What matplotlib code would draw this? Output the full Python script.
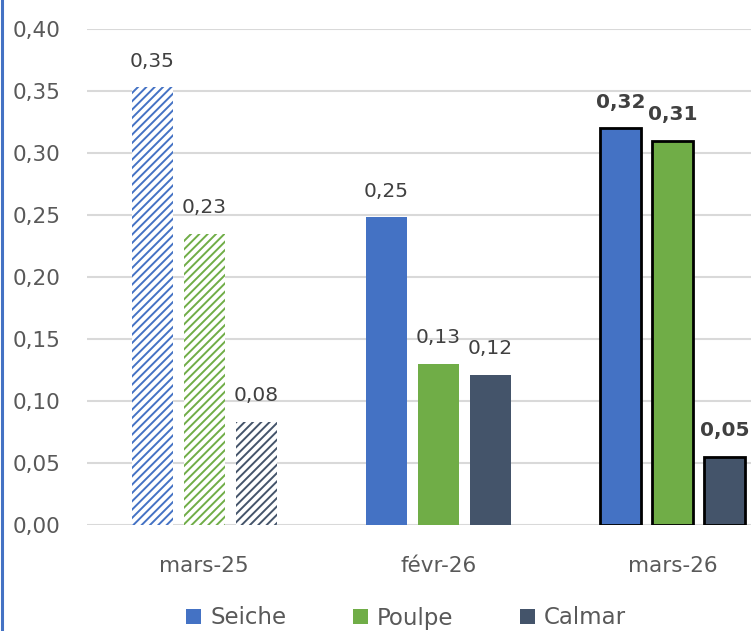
import matplotlib
matplotlib.use("Agg")
import matplotlib.pyplot as plt
import numpy as np
from matplotlib.patches import Patch
from matplotlib.lines import Line2D

categories = ["mars-25", "févr-26", "mars-26"]
series_names = ["Seiche", "Poulpe", "Calmar"]
seiche = [0.353, 0.248, 0.320]
poulpe = [0.235, 0.130, 0.310]
calmar = [0.083, 0.121, 0.055]
labels_seiche = ["0,35", "0,25", "0,32"]
labels_poulpe = ["0,23", "0,13", "0,31"]
labels_calmar = ["0,08", "0,12", "0,05"]
yticks = [0.0, 0.05, 0.10, 0.15, 0.20, 0.25, 0.30, 0.35, 0.40]
ytick_labels = ["0,00", "0,05", "0,10", "0,15", "0,20", "0,25", "0,30", "0,35", "0,40"]
colors = ["#4472C4", "#70AD47", "#44546A"]

plt.rcParams["font.family"] = ["DejaVu Sans"]
plt.rcParams["hatch.linewidth"] = 1.4

W, H = 751, 631
fig = plt.figure(figsize=(W / 100, H / 100), dpi=100)
left_px, right_px, top_px, bot_px = 87, 790, 29, 525
ax = fig.add_axes([left_px / W, (H - bot_px) / H, (right_px - left_px) / W, (bot_px - top_px) / H])

x = np.arange(len(categories))
step = 0.222
width = 0.175
all_vals = [seiche, poulpe, calmar]
all_labels = [labels_seiche, labels_poulpe, labels_calmar]
text_col = "#404040"
for i, (vals, labs, col) in enumerate(zip(all_vals, all_labels, colors)):
    xs = x + (i - 1) * step
    for j in range(len(categories)):
        if j == 0:
            ax.bar(xs[j], vals[j], width, facecolor="white", edgecolor=col,
                   hatch="////", linewidth=0, zorder=3)
            fw = "normal"
        elif j == 1:
            ax.bar(xs[j], vals[j], width, color=col, linewidth=0, zorder=3)
            fw = "normal"
        else:
            ax.bar(xs[j], vals[j], width, color=col, edgecolor="black",
                   linewidth=2, zorder=3)
            fw = "bold"
        ax.annotate(labs[j], (xs[j], vals[j]), xytext=(0, 12), textcoords="offset points",
                    ha="center", va="bottom", fontsize=14.5, color=text_col, fontweight=fw)

ax.set_xlim(-0.5, 2.5)
ax.set_ylim(0, 0.40)
ax.set_yticks(yticks)
ax.set_yticklabels(ytick_labels)
ax.set_xticks(x)
ax.set_xticklabels(categories)
ax.tick_params(axis="y", length=0, pad=19, labelsize=15.5, labelcolor="#595959")
ax.tick_params(axis="x", length=0, pad=22, labelsize=15.5, labelcolor="#595959")
ax.grid(axis="y", color="#D9D9D9", linewidth=1.5, zorder=0)
ax.set_axisbelow(True)
for s in ax.spines.values():
    s.set_visible(False)

# left blue edge line
fig.add_artist(Line2D([1.5 / W, 1.5 / W], [0, 1], color="#4472C4", linewidth=2.2,
                      transform=fig.transFigure))

handles = [Patch(facecolor=c, edgecolor="none") for c in colors]
leg = fig.legend(handles, series_names, loc="center", ncol=3,
                 bbox_to_anchor=(406 / W, 1 - 618 / H), frameon=False,
                 fontsize=16.5, handlelength=0.65, handleheight=0.65,
                 handletextpad=0.4, columnspacing=2.9, labelcolor="#595959")

fig.savefig("out.png", dpi=100)
